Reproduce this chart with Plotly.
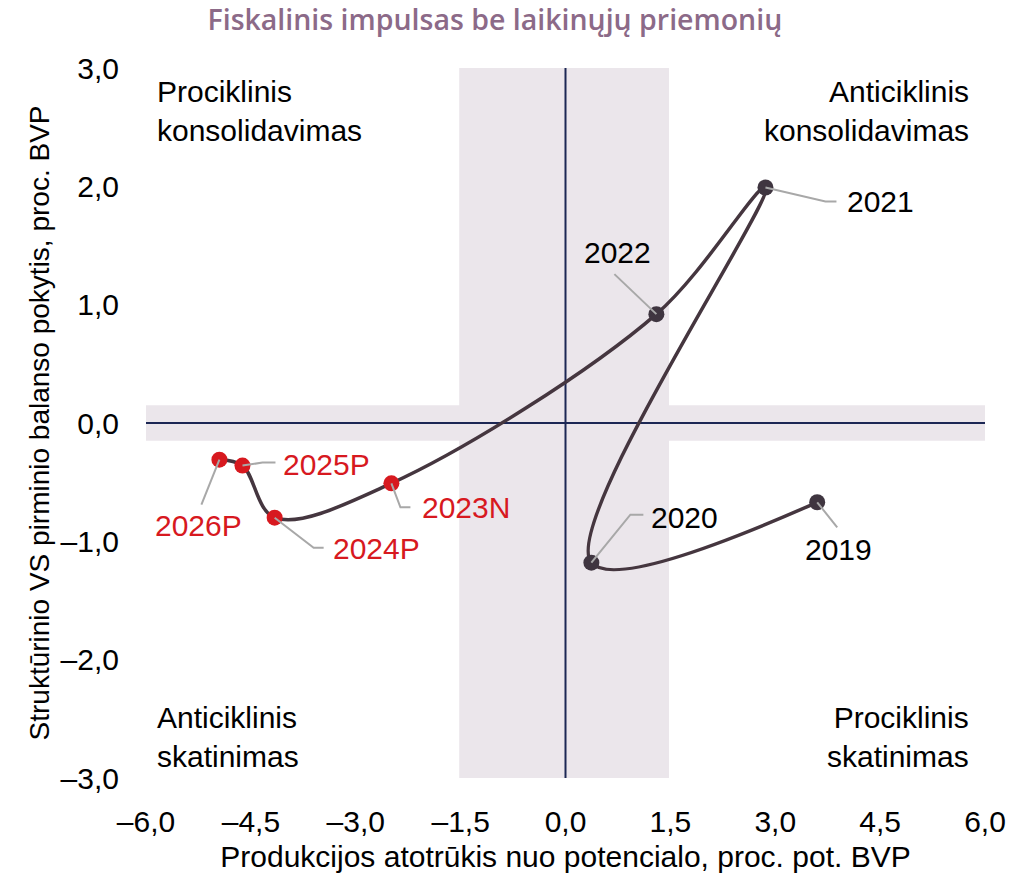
import plotly.graph_objects as go

years = ["2019", "2020", "2021", "2022", "2023N", "2024P", "2025P", "2026P"]
output_gap = [3.60, 0.37, 2.86, 1.30, -2.49, -4.16, -4.62, -4.95]
balance_change = [-0.67, -1.18, 1.99, 0.92, -0.51, -0.80, -0.36, -0.31]
is_forecast = [False, False, False, False, True, True, True, True]

tick_vals_x = [-6, -4.5, -3, -1.5, 0, 1.5, 3, 4.5, 6]
tick_vals_y = [-3, -2, -1, 0, 1, 2, 3]

quadrants = [
    ("Prociklinis<br>konsolidavimas", -6, 3, "left", "top"),
    ("Anticiklinis<br>konsolidavimas", 6, 3, "right", "top"),
    ("Anticiklinis<br>skatinimas", -6, -3, "left", "bottom"),
    ("Prociklinis<br>skatinimas", 6, -3, "right", "bottom"),
]

# label placement: (leader path in px relative to point (up positive), text xshift, yshift, xanchor)
label_layout = {
    "2019": ([(0, 0), (20, -25)], 21, -47, "center"),
    "2020": ([(0, 0), (39, 48), (52, 48)], 58, 45, "left"),
    "2021": ([(0, 0), (60, -14), (71, -14)], 80, -14, "left"),
    "2022": ([(0, 0), (-42, 40)], -39, 62, "center"),
    "2023N": ([(0, 0), (9, -24), (19, -24)], 29, -24, "left"),
    "2024P": ([(0, 0), (39, -30), (49, -30)], 56, -31, "left"),
    "2025P": ([(0, 0), (20, 3), (33, 3)], 39, 1, "left"),
    "2026P": ([(0, 0), (-18, -45)], -21, -66, "center"),
}

LINE = "#45363f"
DARK = "#3f3540"
RED = "#d7191f"
BAND = "#ebe6eb"
NAVY = "#1c2754"
FONT = "Liberation Sans"
FS = 30

fig = go.Figure()

fig.add_trace(go.Scatter(
    x=output_gap, y=balance_change, mode="lines",
    line=dict(color=LINE, width=3.5, shape="spline", smoothing=1.0),
    hoverinfo="skip", showlegend=False,
))
fig.add_trace(go.Scatter(
    x=output_gap, y=balance_change, mode="markers",
    marker=dict(size=16, color=[RED if f else DARK for f in is_forecast]),
    text=years, showlegend=False,
))

shapes = [
    dict(type="rect", xref="x", yref="y", x0=-1.52, x1=1.48, y0=-3, y1=3,
         fillcolor=BAND, line_width=0, layer="below"),
    dict(type="rect", xref="x", yref="y", x0=-6.1, x1=6, y0=-0.15, y1=0.15,
         fillcolor=BAND, line_width=0, layer="below"),
    dict(type="line", xref="x", yref="y", x0=0, x1=0, y0=-3, y1=3,
         line=dict(color=NAVY, width=2), layer="below"),
    dict(type="line", xref="x", yref="y", x0=-6, x1=6, y0=0, y1=0,
         line=dict(color=NAVY, width=2), layer="below"),
]

annotations = []
for yr, xv, yv, fc in zip(years, output_gap, balance_change, is_forecast):
    pts, xs, ys, xa = label_layout[yr]
    path = "M " + " L ".join(f"{px},{py}" for px, py in pts)
    shapes.append(dict(type="path", xref="x", yref="y", xsizemode="pixel", ysizemode="pixel",
                       xanchor=xv, yanchor=yv, path=path,
                       line=dict(color="#a8a8a8", width=2), layer="above"))
    annotations.append(dict(x=xv, y=yv, xref="x", yref="y", text=yr, showarrow=False,
                            xshift=xs, yshift=ys, xanchor=xa, yanchor="middle",
                            font=dict(family=FONT, size=FS, color=RED if fc else "#000000")))

for txt, qx, qy, xa, ya in quadrants:
    annotations.append(dict(x=qx, y=qy, xref="x", yref="y", text=txt, showarrow=False,
                            xanchor=xa, yanchor=ya, align=xa,
                            xshift=9 if xa == "left" else -14,
                            yshift=-5 if ya == "top" else 3,
                            font=dict(family=FONT, size=FS, color="#000000")))

fmt = lambda v: f"{v:.1f}".replace("-", "–").replace(".", ",")

fig.update_layout(
    width=1010, height=873,
    margin=dict(l=146, r=25, t=68, b=95),
    paper_bgcolor="white", plot_bgcolor="white",
    title=dict(text="Fiskalinis impulsas be laikinųjų priemonių",
               x=0.49, xanchor="center", y=0.977, yanchor="middle",
               font=dict(family="Open Sans", size=28.5, weight=600, color="#8c6a88")),
    font=dict(family=FONT, size=FS, color="#000000"),
    shapes=shapes, annotations=annotations,
    xaxis=dict(range=[-6, 6], tickvals=tick_vals_x, ticktext=[fmt(v) for v in tick_vals_x],
               showgrid=False, zeroline=False, showline=False,
               ticks="outside", ticklen=17, tickcolor="rgba(0,0,0,0)", automargin=False,
               title=dict(text="Produkcijos atotrūkis nuo potencialo, proc. pot. BVP",
                          standoff=12, font=dict(size=FS))),
    yaxis=dict(range=[-3, 3], tickvals=tick_vals_y, ticktext=[fmt(v) for v in tick_vals_y],
               showgrid=False, zeroline=False, showline=False,
               ticks="outside", ticklen=20, tickcolor="rgba(0,0,0,0)", automargin=False,
               title=dict(text="Struktūrinio VS pirminio balanso pokytis, proc. BVP",
                          standoff=2, font=dict(size=28))),
)

fig.write_html("out.html", config={"displayModeBar": False},
               post_script="document.body.style.margin='0px';")
